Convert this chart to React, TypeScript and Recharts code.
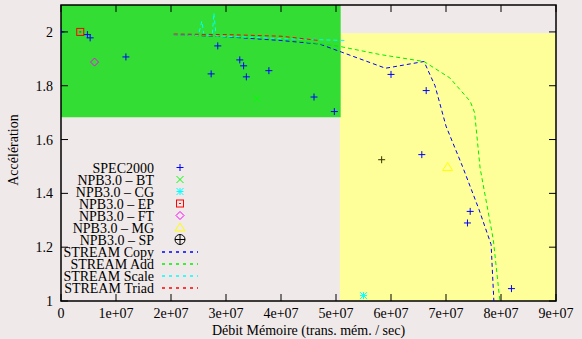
import { ComposedChart, Scatter, XAxis, YAxis, ReferenceArea } from "recharts";

// measured points (x in trans/sec, y = speed-up)
const spec2000 = [
  { x: 0, y: 2.0 },
  { x: 4.8e6, y: 1.99 },
  { x: 5.3e6, y: 1.978 },
  { x: 1.18e7, y: 1.907 },
  { x: 2.73e7, y: 1.844 },
  { x: 2.85e7, y: 1.948 },
  { x: 3.25e7, y: 1.896 },
  { x: 3.32e7, y: 1.874 },
  { x: 3.37e7, y: 1.833 },
  { x: 3.78e7, y: 1.856 },
  { x: 4.6e7, y: 1.758 },
  { x: 4.97e7, y: 1.704 },
  { x: 6.0e7, y: 1.842 },
  { x: 6.56e7, y: 1.544 },
  { x: 6.64e7, y: 1.782 },
  { x: 7.39e7, y: 1.29 },
  { x: 7.44e7, y: 1.333 },
  { x: 8.19e7, y: 1.046 },
];
const npbBT = [{ x: 3.56e7, y: 1.752 }];
const npbCG = [{ x: 5.5e7, y: 1.02 }];
const npbEP = [{ x: 3.5e6, y: 2.0 }];
const npbFT = [{ x: 6.1e6, y: 1.888 }];
const npbMG = [{ x: 7.03e7, y: 1.498 }];
const npbSP = [{ x: 5.83e7, y: 1.525 }];

const streamCopy = [
  { x: 2.05e7, y: 1.99 },
  { x: 3.0e7, y: 1.982 },
  { x: 4.0e7, y: 1.968 },
  { x: 4.7e7, y: 1.955 },
  { x: 5.1e7, y: 1.925 },
  { x: 5.9e7, y: 1.865 },
  { x: 6.6e7, y: 1.89 },
  { x: 6.8e7, y: 1.8 },
  { x: 7.0e7, y: 1.65 },
  { x: 7.3e7, y: 1.5 },
  { x: 7.6e7, y: 1.34 },
  { x: 7.82e7, y: 1.21 },
  { x: 7.87e7, y: 1.0 },
];
const streamAdd = [
  { x: 2.05e7, y: 1.99 },
  { x: 4.0e7, y: 1.975 },
  { x: 5.07e7, y: 1.946 },
  { x: 5.8e7, y: 1.916 },
  { x: 6.6e7, y: 1.89 },
  { x: 7.07e7, y: 1.829 },
  { x: 7.44e7, y: 1.742 },
  { x: 7.52e7, y: 1.7 },
  { x: 7.62e7, y: 1.494 },
  { x: 7.86e7, y: 1.228 },
  { x: 7.98e7, y: 1.0 },
];
const streamScale = [
  { x: 2.05e7, y: 1.99 },
  { x: 2.5e7, y: 1.988 },
  { x: 2.56e7, y: 2.04 },
  { x: 2.6e7, y: 1.988 },
  { x: 2.75e7, y: 1.988 },
  { x: 2.78e7, y: 2.07 },
  { x: 2.82e7, y: 1.985 },
  { x: 3.5e7, y: 1.98 },
  { x: 4.0e7, y: 1.975 },
  { x: 5.2e7, y: 1.968 },
];
const streamTriad = [
  { x: 2.05e7, y: 1.992 },
  { x: 3.0e7, y: 1.99 },
  { x: 4.0e7, y: 1.984 },
  { x: 4.7e7, y: 1.968 },
];

const xTicks = [0, 1e7, 2e7, 3e7, 4e7, 5e7, 6e7, 7e7, 8e7, 9e7];
const yTicks = [1, 1.2, 1.4, 1.6, 1.8, 2];

const FONT = "'Liberation Serif', 'DejaVu Serif', serif";
const TOP = 5;
const LEFT = 61;
const RIGHT = 556;
const BOTTOM = 301;

const fmtX = (v: number) => (v === 0 ? "0" : `${Math.round(v / 1e7)}e+07`);

type Mk = "plus" | "cross" | "star" | "square" | "diamond" | "triangle" | "cplus";

function marker(kind: Mk, cx: number, cy: number, color: string, s = 3.5) {
  const p = { stroke: color, strokeWidth: 1, fill: "none" };
  switch (kind) {
    case "plus":
      return <path {...p} d={`M${cx - s},${cy}h${2 * s}M${cx},${cy - s}v${2 * s}`} />;
    case "cross":
      return <path {...p} d={`M${cx - s},${cy - s}l${2 * s},${2 * s}M${cx - s},${cy + s}l${2 * s},${-2 * s}`} />;
    case "star":
      return (
        <path
          {...p}
          d={`M${cx - s},${cy}h${2 * s}M${cx},${cy - s}v${2 * s}M${cx - s},${cy - s}l${2 * s},${2 * s}M${cx - s},${cy + s}l${2 * s},${-2 * s}`}
        />
      );
    case "square":
      return (
        <g>
          <rect {...p} x={cx - s} y={cy - s} width={2 * s} height={2 * s} />
          <path {...p} d={`M${cx - 1},${cy}h2`} />
        </g>
      );
    case "diamond":
      return <path {...p} d={`M${cx},${cy - s - 0.5}L${cx + s + 0.5},${cy}L${cx},${cy + s + 0.5}L${cx - s - 0.5},${cy}Z`} />;
    case "triangle":
      return <path {...p} d={`M${cx},${cy - s - 1}L${cx + s + 1.5},${cy + s}L${cx - s - 1.5},${cy + s}Z`} />;
    case "cplus":
      return (
        <g>
          <circle {...p} cx={cx} cy={cy} r={s + 1.5} />
          <path {...p} d={`M${cx - s - 1.5},${cy}h${2 * s + 3}M${cx},${cy - s - 1.5}v${2 * s + 3}`} />
        </g>
      );
  }
}

const pointSeries: { name: string; data: { x: number; y: number }[]; color: string; kind: Mk; plotKind?: Mk; plotColor?: string }[] = [
  { name: "SPEC2000", data: spec2000, color: "#0000ff", kind: "plus" },
  { name: "NPB3.0 – BT", data: npbBT, color: "#00ff00", kind: "cross" },
  { name: "NPB3.0 – CG", data: npbCG, color: "#00ffff", kind: "star" },
  { name: "NPB3.0 – EP", data: npbEP, color: "#ff0000", kind: "square" },
  { name: "NPB3.0 – FT", data: npbFT, color: "#ff00ff", kind: "diamond" },
  { name: "NPB3.0 – MG", data: npbMG, color: "#ffff00", kind: "triangle" },
  { name: "NPB3.0 – SP", data: npbSP, color: "#000000", kind: "cplus", plotKind: "plus", plotColor: "#333300" },
];

const lineSeries = [
  { name: "STREAM Copy", data: streamCopy, color: "#0000ff" },
  { name: "STREAM Add", data: streamAdd, color: "#00ee00" },
  { name: "STREAM Scale", data: streamScale, color: "#00ffff" },
  { name: "STREAM Triad", data: streamTriad, color: "#ff0000" },
];

function XTick(props: any) {
  const { x, y, payload } = props;
  return (
    <g>
      <line x1={x} y1={BOTTOM} x2={x} y2={BOTTOM - 7} stroke="#000" />
      <line x1={x} y1={TOP} x2={x} y2={TOP + 7} stroke="#000" />
      <text x={x} y={y + 16.5} textAnchor="middle" fontFamily={FONT} fontSize={14} fill="#000">
        {fmtX(payload.value)}
      </text>
    </g>
  );
}

function YTick(props: any) {
  const { x, y, payload } = props;
  return (
    <g>
      <line x1={LEFT} y1={y} x2={LEFT + 7} y2={y} stroke="#000" />
      <line x1={RIGHT} y1={y} x2={RIGHT - 7} y2={y} stroke="#000" />
      <text x={x - 8} y={y + 5} textAnchor="end" fontFamily={FONT} fontSize={14} fill="#000">
        {String(payload.value)}
      </text>
    </g>
  );
}

function LegendBox() {
  return (
    <svg
      width={210}
      height={140}
      style={{ position: "absolute", left: 0, top: 160, overflow: "visible", pointerEvents: "none" }}
    >
      {pointSeries.map((s, i) => {
        const cy = 7.5 + i * 12;
        return (
          <g key={s.name}>
            <text x={154} y={cy + 5} textAnchor="end" fontFamily={FONT} fontSize={14} fill="#000">
              {s.name}
            </text>
            {marker(s.kind, 180, cy, s.color, 3.5)}
          </g>
        );
      })}
      {lineSeries.map((s, j) => {
        const cy = 8 + (pointSeries.length + j) * 12;
        return (
          <g key={s.name}>
            <text x={154} y={cy + 4.5} textAnchor="end" fontFamily={FONT} fontSize={14} fill="#000">
              {s.name}
            </text>
            <path d={`M162,${cy}H198`} style={{ stroke: s.color, strokeWidth: 1.5, strokeDasharray: "3 4", fill: "none" }} />
          </g>
        );
      })}
    </svg>
  );
}

export default function App() {
  return (
    <div style={{ position: "absolute", left: 0, top: 0, width: 582, height: 339, background: "#f0e9e9" }}>
      <ComposedChart width={582} height={339} margin={{ top: TOP, right: 582 - RIGHT, bottom: 0, left: 0 }}>
        <XAxis
          type="number"
          dataKey="x"
          domain={[0, 9e7]}
          ticks={xTicks}
          allowDataOverflow
          height={38}
          tickSize={0}
          tickMargin={0}
          axisLine={false}
          tick={<XTick />}
          interval={0}
          label={() => (
            <text x={(LEFT + RIGHT) / 2} y={335} textAnchor="middle" fontFamily={FONT} fontSize={14} fill="#000">
              Débit Mémoire (trans. mém. / sec)
            </text>
          )}
        />
        <YAxis
          type="number"
          dataKey="y"
          domain={[1, 2.1]}
          ticks={yTicks}
          allowDataOverflow
          width={LEFT}
          tickSize={0}
          tickMargin={0}
          axisLine={false}
          tick={<YTick />}
          interval={0}
          label={() => (
            <text
              x={18}
              y={150}
              transform="rotate(-90 18 150)"
              textAnchor="middle"
              fontFamily={FONT}
              fontSize={14}
              fill="#000"
            >
              Accélération
            </text>
          )}
        />
        <ReferenceArea x1={5.07e7} x2={9e7} y1={1} y2={1.995} fill="#ffff99" fillOpacity={1} stroke="none" />
        <ReferenceArea x1={0} x2={5.085e7} y1={1.683} y2={2.1} fill="#33dd33" fillOpacity={1} stroke="none" />
        <ReferenceArea x1={0} x2={9e7} y1={1} y2={2.1} fill="none" stroke="#000" strokeWidth={1.5} />
        {pointSeries.map((s) => (
          <Scatter
            key={s.name}
            name={s.name}
            data={s.data}
            isAnimationActive={false}
            shape={(p: any) => marker(s.plotKind ?? s.kind, p.cx, p.cy, s.plotColor ?? s.color)}
          />
        ))}
        {lineSeries.map((s) => (
          <Scatter
            key={s.name}
            name={s.name}
            data={s.data}
            isAnimationActive={false}
            line={{ stroke: s.color, strokeWidth: 1, strokeDasharray: "4 3" }}
            lineType="joint"
            shape={() => <g />}
          />
        ))}
      </ComposedChart>
      <LegendBox />
    </div>
  );
}
